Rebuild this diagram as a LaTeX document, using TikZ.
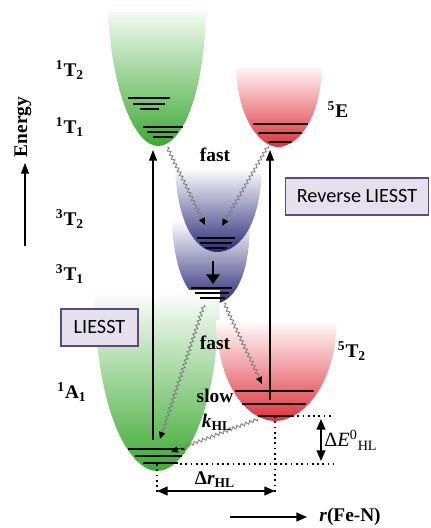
\documentclass[tikz,border=0pt]{standalone}
\usepackage{fontspec}
\setmainfont{Liberation Serif}
\newfontfamily\boxfont{Carlito}
\usetikzlibrary{positioning,arrows.meta,decorations.pathmorphing}
\definecolor{wellGreen}{HTML}{3CAA32}
\definecolor{wellRed}{HTML}{E0303A}
\definecolor{wellBlue}{HTML}{2A2A78}
\definecolor{boxLilac}{HTML}{E6E0EE}
\definecolor{boxPurple}{HTML}{5B4A7A}

\begin{document}
\begin{tikzpicture}[x=0.02cm, y=-0.02cm,
    lblStyle/.style={font=\fontsize{11}{13}\selectfont\bfseries, inner sep=0pt},
    levelLine/.style={line width=1.1pt},
    boxStyle/.style={rectangle, draw=boxPurple, fill=boxLilac, line width=0.9pt, font=\boxfont\fontsize{11.5}{13}\selectfont, minimum height=0.74cm, inner sep=2pt},
    wavyArrow/.style={draw=gray, line width=0.5pt, decorate, decoration={snake, amplitude=0.9pt, segment length=2.6pt, post length=4pt}, -{Triangle[length=4pt, width=3.6pt, color=black]}},
    vArrow/.style={line width=0.6pt, -{Triangle[length=6pt, width=4.5pt]}},
    dimArrow/.style={line width=0.9pt, {Triangle[length=6pt, width=5pt]}-{Triangle[length=6pt, width=5pt]}},
    dotLine/.style={line width=1pt, dotted}
]
    \useasboundingbox (0,0) rectangle (430,528);

    % potential wells
    \shade[top color=wellGreen!6, middle color=wellGreen!50, bottom color=wellGreen] (108,12) .. controls (112,95) and (136,146) .. (158,146) .. controls (182,146) and (204,95) .. (206,12) -- cycle;
    \shade[top color=wellRed!5, middle color=wellRed!40, bottom color=wellRed] (236,68) .. controls (238,122) and (262,147) .. (278,147) .. controls (296,147) and (320,122) .. (322,68) -- cycle;
    \shade[top color=white, middle color=wellBlue!45, bottom color=wellBlue] (172,220) .. controls (174,285) and (196,304) .. (212,304) .. controls (230,304) and (250,285) .. (250,220) -- cycle;
    \shade[top color=white, middle color=wellBlue!45, bottom color=wellBlue] (175,168) .. controls (178,232) and (200,252) .. (217,252) .. controls (236,252) and (260,232) .. (262,168) -- cycle;
    \shade[top color=white, middle color=wellGreen!40, bottom color=wellGreen] (94,290) .. controls (96,420) and (132,471) .. (157,471) .. controls (183,471) and (218,420) .. (220,290) -- cycle;
    \shade[top color=white, middle color=wellRed!35, bottom color=wellRed] (216,320) .. controls (218,390) and (250,421) .. (275,421) .. controls (300,421) and (335,390) .. (337,320) -- cycle;

    % vibrational levels
    \foreach \y/\a/\b in {98/128/170, 104/133/165, 109/140/159,
                          127/143/183, 132/147/178, 137/153/173,
                          124/253/308, 133/258/302, 142/268/292,
                          238/197/235, 243/200/232, 248/205/227,
                          288/191/232, 293/195/229, 298/200/225,
                          449/128/185, 456/135/182, 463/143/178,
                          391/235/314, 404/242/306, 416/258/292}
        \draw[levelLine] (\a,\y) -- (\b,\y);

    % named points
    \coordinate (lsBot) at (153,440);
    \coordinate (lsTop) at (153,150);
    \coordinate (hsBot) at (270,400);
    \coordinate (hsTop) at (270,150);
    \coordinate (gMin) at (157,464);
    \coordinate (rMin) at (275,416);

    % excitation arrows
    \draw[vArrow] (lsBot) -- (lsTop);
    \draw[vArrow] (hsBot) -- (hsTop);
    \draw[line width=1.6pt, -{Triangle[length=5.5pt, width=7.5pt]}] (213,261) -- (213,284);

    % relaxation paths
    \draw[wavyArrow] (167,147) -- (205,225);
    \draw[wavyArrow] (268,146) -- (222,226);
    \draw[wavyArrow] (204,305) -- (160,439);
    \draw[wavyArrow] (224,303) -- (262,384);
    \draw[wavyArrow] (258,419) -- (171,452);

    % dimensions
    \coordinate (eLow) at (333,464);
    \coordinate (eHigh) at (333,416);
    \draw[dotLine] (180,464) -- (eLow);
    \draw[dotLine] (292,416) -- (eHigh);
    \draw[dotLine] (gMin) -- (157,494);
    \draw[dotLine] (rMin) -- (275,494);
    \draw[dimArrow] (157,491) -- (275,491);
    \draw[dimArrow] (321,419) -- (321,461);

    % axes
    \draw[vArrow] (25,246) -- (25,163);
    \draw[line width=0.9pt, -{Triangle[length=6pt, width=5pt]}] (230,517) -- (307,517);

    % labels
    \node[lblStyle, rotate=90] (energy) at (23,127) {Energy};
    \node[lblStyle] (t12) at (70,70) {\textsuperscript{1}T\textsubscript{2}};
    \node[lblStyle] (t11) at (70,127) {\textsuperscript{1}T\textsubscript{1}};
    \node[lblStyle] (t32) at (70,219) {\textsuperscript{3}T\textsubscript{2}};
    \node[lblStyle] (t31) at (70,274) {\textsuperscript{3}T\textsubscript{1}};
    \node[lblStyle] (a11) at (72,392) {\textsuperscript{1}A\textsubscript{1}};
    \node[lblStyle] (e5) at (338,110) {\textsuperscript{5}E};
    \node[lblStyle] (t52) at (352,351) {\textsuperscript{5}T\textsubscript{2}};
    \node[lblStyle] (fastTop) at (215,155) {fast};
    \node[lblStyle] (fastLow) at (215,343) {fast};
    \node[lblStyle] (slow) at (215,396) {slow};
    \node[lblStyle] (khl) at (217,422) {\textit{k}\textsubscript{HL}};
    \node[lblStyle, font=\fontsize{11.5}{13}\selectfont] (dE) at (351,440) {Δ\textit{E}\textsuperscript{0}\textsubscript{HL}};
    \node[lblStyle] (dr) at (215,480) {Δ\textit{r}\textsubscript{HL}};
    \node[lblStyle] (rFeN) at (350,517) {\textit{r}(Fe-N)};

    \node[boxStyle, minimum width=1.54cm] (liesst) at (99.5,327.5) {LIESST};
    \node[boxStyle, minimum width=2.86cm] (revLiesst) at (357,196.5) {Reverse LIESST};
\end{tikzpicture}
\end{document}
